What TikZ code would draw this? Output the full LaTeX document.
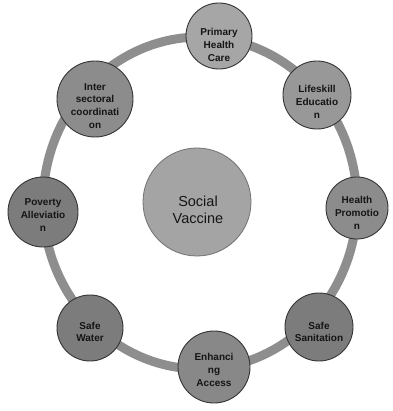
\documentclass[tikz,border=0pt]{standalone}
\usepackage{fontspec}
\setmainfont{Liberation Sans}
\definecolor{ringgray}{HTML}{8E8E8E}
\definecolor{edgegray}{HTML}{353535}
\definecolor{hubgray}{HTML}{A4A4A4}
\definecolor{textdark}{HTML}{151515}
\definecolor{sat1}{HTML}{A6A6A6}
\definecolor{sat2}{HTML}{989898}
\definecolor{sat3}{HTML}{8C8C8C}
\definecolor{sat4}{HTML}{7C7C7C}
\definecolor{sat5}{HTML}{888888}
\begin{document}
\begin{tikzpicture}[x=1pt,y=-1pt,
  ringline/.style={draw=ringgray,line width=9pt},
  sat/.style={circle,draw=edgegray,line width=0.9pt,inner sep=0pt},
  hub/.style={circle,draw=edgegray!70,line width=0.8pt,fill=hubgray,inner sep=0pt,minimum size=108pt},
  lbl/.style={align=center,text=textdark,font=\bfseries\fontsize{10}{12.8}\selectfont,inner sep=0pt},
  hublbl/.style={align=center,text=textdark,font=\fontsize{14.5}{17}\selectfont,inner sep=0pt}]
\useasboundingbox[fill=white] (0,0) rectangle (392,411);

% ring joining the satellite circles
\coordinate (ringc) at (200,203);
\draw[ringline] (ringc) ellipse [x radius=157, y radius=166];

% central hub
\node[hub] (hub) at (197,202) {};
\node[hublbl] (hubtext) at (198,210) {Social\\Vaccine};

% satellites
\node[sat,fill=sat1,minimum size=66pt] (phc) at (219,36) {};
\node[sat,fill=sat2,minimum size=68pt] (life) at (317,95) {};
\node[sat,fill=sat3,minimum size=62pt] (hp) at (357,208) {};
\node[sat,fill=sat4,minimum size=68pt] (san) at (319,327) {};
\node[sat,fill=sat5,minimum size=72pt] (acc) at (214,367) {};
\node[sat,fill=sat4,minimum size=66pt] (water) at (90,328) {};
\node[sat,fill=sat4,minimum size=70pt] (pov) at (43,212) {};
\node[sat,fill=sat3,minimum size=76pt] (inter) at (95,99) {};

\node[lbl] (phct) at ([yshift=-9]phc.center) {Primary\\Health\\Care};
\node[lbl] (lifet) at ([yshift=-7]life.center) {Lifeskill\\Educatio\\n};
\node[lbl] (hpt) at ([yshift=-5]hp.center) {Health\\Promotio\\n};
\node[lbl] (sant) at ([yshift=-5]san.center) {Safe\\Sanitation};
\node[lbl] (acct) at ([yshift=-3]acc.center) {Enhanci\\ng\\Access};
\node[lbl] (watert) at ([yshift=-4]water.center) {Safe\\Water};
\node[lbl] (povt) at ([yshift=-3]pov.center) {Poverty\\Alleviatio\\n};
\node[lbl] (intert) at ([yshift=-7]inter.center) {Inter\\sectoral\\coordinati\\on};
\end{tikzpicture}
\end{document}
